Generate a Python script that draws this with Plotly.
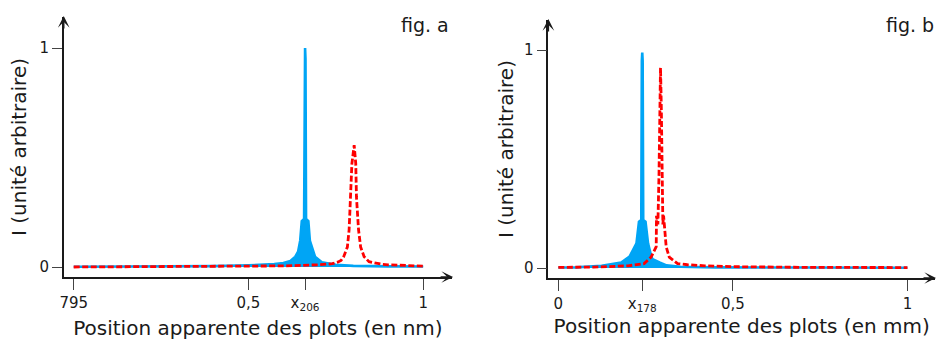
import plotly.graph_objects as go

# ---------------- data ----------------
# fig. a : positions in fraction of the window (795 nm ... 1)
blue_a_x = [0.0, 0.2, 0.4, 0.5, 0.55, 0.574, 0.6, 0.62, 0.634, 0.642, 0.648, 0.6526,
            0.6592, 0.6608, 0.662, 0.6632, 0.6648, 0.6714, 0.6757, 0.6905, 0.71,
            0.75, 0.8, 0.9, 1.0]
blue_a_y = [0.001, 0.002, 0.004, 0.008, 0.011, 0.013, 0.018, 0.028, 0.047, 0.07, 0.12, 0.21,
            0.22, 0.95, 1.0, 0.95, 0.22, 0.21, 0.12, 0.047, 0.022,
            0.01, 0.005, 0.003, 0.002]

red_a_x = [0.0, 0.2, 0.4, 0.5, 0.6, 0.7, 0.74, 0.755, 0.765, 0.772, 0.776, 0.783, 0.788,
           0.793, 0.796, 0.8025, 0.807, 0.809, 0.815, 0.821, 0.831, 0.845, 0.86, 0.88,
           0.9, 0.95, 1.0]
red_a_y = [0.0, 0.001, 0.002, 0.003, 0.005, 0.01, 0.015, 0.022, 0.03, 0.045, 0.06, 0.091, 0.17,
           0.32, 0.472, 0.556, 0.472, 0.32, 0.17, 0.091, 0.047, 0.024, 0.018, 0.013,
           0.01, 0.006, 0.004]

# fig. b : positions in mm
blue_b_x = [0.0, 0.05, 0.124, 0.18, 0.204, 0.2238, 0.231, 0.2376, 0.2392, 0.2404, 0.2416,
            0.2432, 0.2498, 0.257, 0.2664, 0.27, 0.29, 0.31, 0.35, 0.45, 0.7, 1.0]
blue_b_y = [0.002, 0.003, 0.01, 0.025, 0.052, 0.113, 0.212, 0.22, 0.95, 0.988, 0.95,
            0.22, 0.212, 0.113, 0.052, 0.04, 0.025, 0.012, 0.006, 0.003, 0.002, 0.001]

red_b_x = [0.0, 0.1, 0.2, 0.23, 0.2457, 0.2657, 0.2804, 0.2812, 0.2852, 0.2884, 0.2905,
           0.2927, 0.295, 0.297, 0.2995, 0.3015, 0.3089, 0.3177, 0.3417, 0.37, 0.42,
           0.5, 0.7, 1.0]
red_b_y = [0.003, 0.004, 0.01, 0.015, 0.02, 0.05, 0.098, 0.24, 0.2, 0.43, 0.74,
           0.919, 0.74, 0.43, 0.2, 0.24, 0.098, 0.05, 0.02, 0.015, 0.01,
           0.006, 0.003, 0.002]

ticks_a_vals = [0.0, 0.5, 0.662, 1.0]
ticks_a_text = ["795", "0,5", "x<sub>206</sub>", "1"]
ticks_b_vals = [0.0, 0.2404, 0.5, 1.0]
ticks_b_text = ["0", "x<sub>178</sub>", "0,5", "1"]
y_vals = [0, 1]
y_text = ["0", "1"]

# ---------------- style ----------------
BLUE = "#00A5F5"
RED = "#FF0000"
INK = "#1a1a1a"
FONT = "DejaVu Sans"
W, H = 938, 340
DASH = "6px,2.5px"

fig = go.Figure()
fig.add_trace(go.Scatter(x=blue_a_x, y=blue_a_y, mode="lines", fill="tozeroy",
                         fillcolor=BLUE, line=dict(color=BLUE, width=2.6),
                         xaxis="x", yaxis="y", showlegend=False))
fig.add_trace(go.Scatter(x=red_a_x, y=red_a_y, mode="lines",
                         line=dict(color=RED, width=2.8, dash=DASH),
                         xaxis="x", yaxis="y", showlegend=False))
fig.add_trace(go.Scatter(x=blue_b_x, y=blue_b_y, mode="lines", fill="tozeroy",
                         fillcolor=BLUE, line=dict(color=BLUE, width=2.6),
                         xaxis="x2", yaxis="y2", showlegend=False))
fig.add_trace(go.Scatter(x=red_b_x, y=red_b_y, mode="lines",
                         line=dict(color=RED, width=2.8, dash=DASH),
                         xaxis="x2", yaxis="y2", showlegend=False))


def px_x(p):
    return p / W


def px_y(p):
    return (H - p) / H


common_axis = dict(showline=True, linecolor=INK, linewidth=1.5, showgrid=False,
                   zeroline=False, ticks="outside", tickcolor="#444", tickwidth=1.2,
                   tickfont=dict(family=FONT, size=15, color=INK), tickmode="array")
title_font = dict(family=FONT, size=20, color=INK)

fig.update_layout(
    width=W, height=H, margin=dict(l=0, r=0, t=0, b=0),
    paper_bgcolor="white", plot_bgcolor="white",
    font=dict(family=FONT, color=INK),
    xaxis=dict(common_axis, domain=[px_x(60), px_x(450)],
               range=[-10 / 351, 380 / 351], anchor="y", ticklen=11,
               tickvals=ticks_a_vals, ticktext=ticks_a_text,
               title=dict(text="Position apparente des plots (en nm)",
                          font=title_font, standoff=13)),
    yaxis=dict(common_axis, domain=[px_y(277), px_y(17)],
               range=[-10 / 219, 250 / 219], anchor="x", ticklen=10,
               tickvals=y_vals, ticktext=y_text,
               title=dict(text="I (unité arbitraire)", font=title_font, standoff=7)),
    xaxis2=dict(common_axis, domain=[px_x(546.7), px_x(935)],
                range=[-10 / 350.6, 378.3 / 350.6], anchor="y2", ticklen=11,
                tickvals=ticks_b_vals, ticktext=ticks_b_text,
                title=dict(text="Position apparente des plots (en mm)",
                           font=title_font, standoff=4)),
    yaxis2=dict(common_axis, domain=[px_y(278), px_y(20)],
                range=[-10 / 218, 248 / 218], anchor="x2", ticklen=10,
                tickvals=y_vals, ticktext=y_text,
                title=dict(text="I (unité arbitraire)", font=title_font, standoff=5)),
)

arrow = dict(xref="paper", yref="paper", text="", showarrow=True, arrowhead=3,
             arrowsize=1.3, arrowwidth=1.5, arrowcolor=INK, standoff=0)
fig.add_annotation(arrow, x=px_x(451), y=px_y(277), ax=-14, ay=0)
fig.add_annotation(arrow, x=px_x(60), y=px_y(16), ax=0, ay=14)
fig.add_annotation(arrow, x=px_x(936), y=px_y(278), ax=-14, ay=0)
fig.add_annotation(arrow, x=px_x(546.7), y=px_y(19), ax=0, ay=14)

label = dict(xref="paper", yref="paper", showarrow=False, xanchor="right",
             yanchor="middle", font=dict(family=FONT, size=19, color=INK))
fig.add_annotation(label, text="fig. a", x=px_x(449), y=px_y(25))
fig.add_annotation(label, text="fig. b", x=px_x(936), y=px_y(25))

# remove the browser's default 8 px body margin so the figure fills the window
fig.write_html("out.html",
               config={"displayModeBar": False},
               post_script="document.body.style.margin='0';"
                           "document.body.style.overflow='hidden';")
